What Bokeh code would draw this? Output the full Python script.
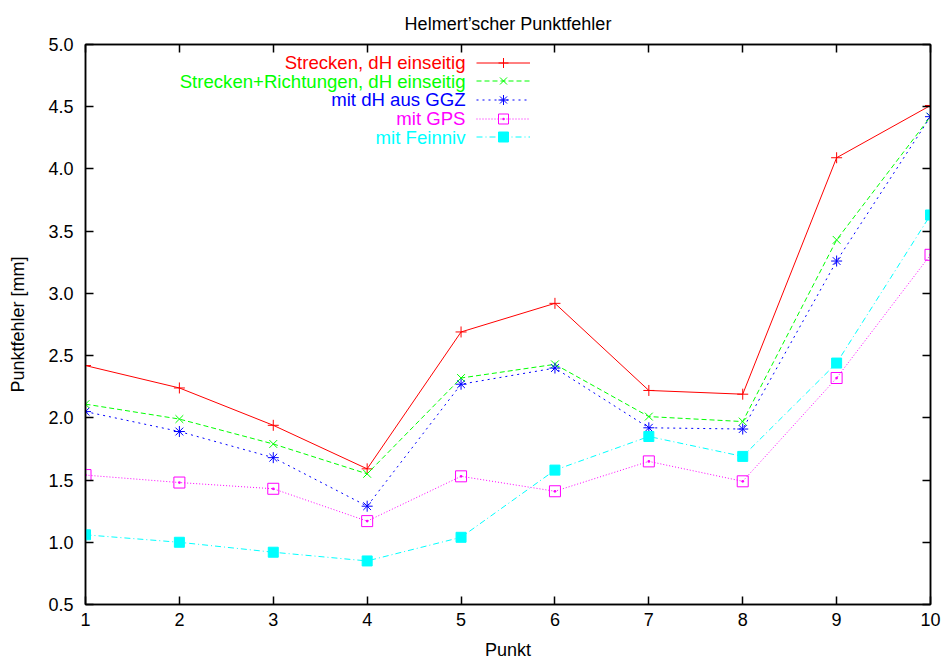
from bokeh.plotting import figure
from bokeh.models import (Range1d, LinearAxis, FixedTicker, Legend, LegendItem, Label,
                          NumeralTickFormatter)
from bokeh.embed import file_html
from bokeh.resources import INLINE

punkte = [1, 2, 3, 4, 5, 6, 7, 8, 9, 10]
strecken = [2.42, 2.24, 1.94, 1.59, 2.69, 2.92, 2.22, 2.19, 4.09, 4.51]
strecken_richtungen = [2.11, 1.99, 1.79, 1.55, 2.32, 2.43, 2.01, 1.97, 3.43, 4.42]
ggz = [2.05, 1.89, 1.68, 1.29, 2.27, 2.40, 1.92, 1.91, 3.26, 4.42]
gps = [1.54, 1.48, 1.43, 1.17, 1.53, 1.41, 1.65, 1.49, 2.32, 3.31]
feinniv = [1.06, 1.00, 0.92, 0.85, 1.04, 1.58, 1.85, 1.69, 2.44, 3.63]

title_text = "Helmert\u2019scher Punktfehler"
names = ["Strecken, dH einseitig", "Strecken+Richtungen, dH einseitig",
         "mit dH aus GGZ", "mit GPS", "mit Feinniv"]
colors = ["#ff0000", "#00ff00", "#0000ff", "#ff00ff", "#00ffff"]
dashes = ["solid", "5 3", "2 4", "1 2", "6 3 1 3"]
markers = ["cross", "x", "asterisk", "square_dot", "square"]
series = [strecken, strecken_richtungen, ggz, gps, feinniv]

y_ticks = [0.5, 1.0, 1.5, 2.0, 2.5, 3.0, 3.5, 4.0, 4.5, 5.0]

FONT = "Liberation Sans"
FS = "18px"
LFS = "18.6px"

p = figure(width=942, height=666, output_backend="svg", toolbar_location=None,
           x_range=Range1d(1, 10), y_range=Range1d(0.5, 5.0), title=title_text,
           x_axis_label="Punkt", y_axis_label="Punktfehler [mm]")
p.min_border_left = 85
p.min_border_right = 12
p.min_border_top = 44
p.min_border_bottom = 62
p.background_fill_color = "white"
p.border_fill_color = "white"
p.outline_line_color = "black"
p.outline_line_width = 1.5
p.xgrid.visible = False
p.ygrid.visible = False

p.title.align = "center"
p.title.text_font = FONT
p.title.text_font_size = FS
p.title.text_font_style = "normal"
p.title.text_color = "black"
p.title.standoff = 21

def style_axis(ax, show_labels=True):
    ax.axis_line_color = "black"
    ax.axis_line_width = 1.5
    ax.major_tick_in = 8
    ax.major_tick_out = 0
    ax.major_tick_line_color = "black"
    ax.major_tick_line_width = 1.5
    ax.minor_tick_line_color = None
    ax.major_label_text_font = FONT
    ax.major_label_text_font_size = FS
    ax.major_label_text_color = "black"
    ax.axis_label_text_font = FONT
    ax.axis_label_text_font_size = FS
    ax.axis_label_text_font_style = "normal"
    ax.axis_label_text_color = "black"
    if not show_labels:
        ax.major_label_text_font_size = "0px"
        ax.major_label_text_alpha = 0

xa = p.xaxis[0]
ya = p.yaxis[0]
style_axis(xa)
style_axis(ya)
xa.ticker = FixedTicker(ticks=punkte)
ya.ticker = FixedTicker(ticks=y_ticks)
ya.formatter = NumeralTickFormatter(format="0.0")
xa.major_label_standoff = 8
ya.major_label_standoff = 12
xa.axis_label_standoff = 11
ya.axis_label_standoff = 17

top = LinearAxis(ticker=FixedTicker(ticks=punkte))
right = LinearAxis(ticker=FixedTicker(ticks=y_ticks))
style_axis(top, False)
style_axis(right, False)
top.major_label_standoff = 0
right.major_label_standoff = 0
p.add_layout(top, "above")
p.add_layout(right, "right")

renderers = []
for vals, col, dash, mk in zip(series, colors, dashes, markers):
    rl = p.line(punkte, vals, line_color=col, line_width=1, line_dash=dash)
    if mk == "square":
        rm = p.scatter(punkte, vals, marker=mk, size=10, fill_color=col, line_color=col)
    else:
        rm = p.scatter(punkte, vals, marker=mk, size=11, fill_color=None,
                       line_color=col, line_width=1)
    renderers.append((rl, rm))

frame_h = 560

# legend (gnuplot style: text right-aligned on the left, sample on the right)
row_h = 18.7
first_row_center = frame_h - 18
text_right = 380
sample_left = 391
gh = 25
for i, ((rl, rm), name, col) in enumerate(zip(renderers, names, colors)):
    cy = first_row_center - i * row_h
    leg = Legend(items=[LegendItem(label=" ", renderers=[rl, rm])],
                 location=(sample_left, cy - gh / 2), glyph_width=54, glyph_height=gh,
                 padding=0, margin=0, spacing=0, label_standoff=0, label_width=0,
                 label_height=0, label_text_font_size="1px",
                 background_fill_alpha=0, border_line_alpha=0)
    p.add_layout(leg)
    p.add_layout(Label(x=text_right, y=cy, x_units="screen", y_units="screen",
                       text=name, text_align="right", text_baseline="middle",
                       text_color=col, text_font=FONT, text_font_size=LFS))

open("out.html", "w").write(file_html(p, INLINE))
